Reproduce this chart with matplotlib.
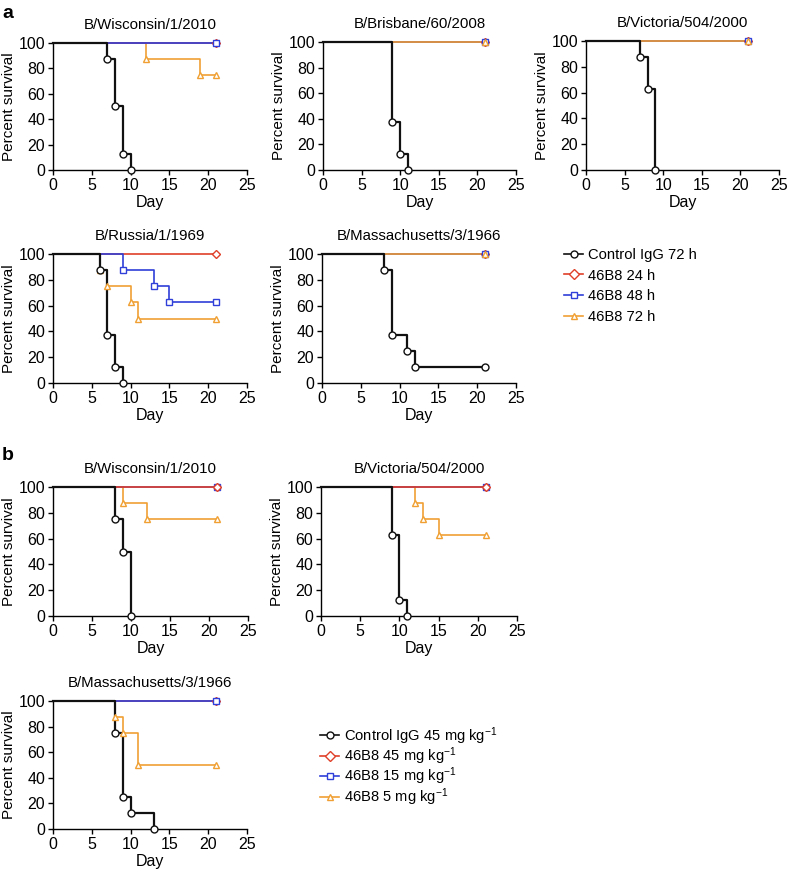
import matplotlib
matplotlib.use("Agg")
import matplotlib.pyplot as plt
from matplotlib.lines import Line2D

plt.rcParams["font.family"] = ["Liberation Sans", "DejaVu Sans"]
plt.rcParams["mathtext.fontset"] = "custom"
plt.rcParams["mathtext.rm"] = "Liberation Sans"
plt.rcParams["mathtext.it"] = "Liberation Sans:italic"
plt.rcParams["font.size"] = 10

# cores / marcadores por grupo
COLORS = {"ctrl": "#111111", "d24": "#e0402a", "d48": "#2f3fd8", "d72": "#f0a033"}
MARKERS = {"ctrl": "o", "d24": "D", "d48": "s", "d72": "^"}
DRAW_ORDER = ["d24", "d48", "d72", "ctrl"]

# ---- dados (dia do evento, % sobrevida) ----
# painel a
wis_a_ctrl = ([0, 7, 8, 9, 10], [100, 87.5, 50, 12.5, 0])
wis_a_d24 = ([0, 21], [100, 100])
wis_a_d48 = ([0, 21], [100, 100])
wis_a_d72 = ([0, 12, 19, 21], [100, 87.5, 75, 75])

bri_a_ctrl = ([0, 9, 10, 11], [100, 37.5, 12.5, 0])
bri_a_d24 = ([0, 21], [100, 100])
bri_a_d48 = ([0, 21], [100, 100])
bri_a_d72 = ([0, 21], [100, 100])

vic_a_ctrl = ([0, 7, 8, 9], [100, 87.5, 62.5, 0])
vic_a_d24 = ([0, 21], [100, 100])
vic_a_d48 = ([0, 21], [100, 100])
vic_a_d72 = ([0, 21], [100, 100])

rus_a_ctrl = ([0, 6, 7, 8, 9], [100, 87.5, 37.5, 12.5, 0])
rus_a_d24 = ([0, 21], [100, 100])
rus_a_d48 = ([0, 9, 13, 15, 21], [100, 87.5, 75, 62.5, 62.5])
rus_a_d72 = ([0, 6, 7, 10, 11, 21], [100, 87.5, 75, 62.5, 50, 50])

mas_a_ctrl = ([0, 8, 9, 11, 12, 21], [100, 87.5, 37.5, 25, 12.5, 12.5])
mas_a_d24 = ([0, 21], [100, 100])
mas_a_d48 = ([0, 21], [100, 100])
mas_a_d72 = ([0, 21], [100, 100])

# painel b
wis_b_ctrl = ([0, 8, 9, 10], [100, 75, 50, 0])
wis_b_d24 = ([0, 21], [100, 100])
wis_b_d48 = ([0, 21], [100, 100])
wis_b_d72 = ([0, 9, 12, 21], [100, 87.5, 75, 75])

vic_b_ctrl = ([0, 9, 10, 11], [100, 62.5, 12.5, 0])
vic_b_d24 = ([0, 21], [100, 100])
vic_b_d48 = ([0, 21], [100, 100])
vic_b_d72 = ([0, 12, 13, 15, 21], [100, 87.5, 75, 62.5, 62.5])

mas_b_ctrl = ([0, 8, 9, 10, 13], [100, 75, 25, 12.5, 0])
mas_b_d24 = ([0, 21], [100, 100])
mas_b_d48 = ([0, 21], [100, 100])
mas_b_d72 = ([0, 8, 9, 11, 21], [100, 87.5, 75, 50, 50])

LABELS_A = ["Control IgG 72 h", "46B8 24 h", "46B8 48 h", "46B8 72 h"]
LABELS_B = ["Control IgG 45 mg kg$^{-1}$", "46B8 45 mg kg$^{-1}$",
            "46B8 15 mg kg$^{-1}$", "46B8 5 mg kg$^{-1}$"]

# (titulo, series, posicao em px: esquerda, base, largura, altura)
PANELS = [
    ("B/Wisconsin/1/2010",
     {"ctrl": wis_a_ctrl, "d24": wis_a_d24, "d48": wis_a_d48, "d72": wis_a_d72},
     (53, 170, 194, 127), ["d72", "d24", "d48", "ctrl"]),
    ("B/Brisbane/60/2008",
     {"ctrl": bri_a_ctrl, "d24": bri_a_d24, "d48": bri_a_d48, "d72": bri_a_d72},
     (323, 170, 193, 128), None),
    ("B/Victoria/504/2000",
     {"ctrl": vic_a_ctrl, "d24": vic_a_d24, "d48": vic_a_d48, "d72": vic_a_d72},
     (586, 170, 193, 129), None),
    ("B/Russia/1/1969",
     {"ctrl": rus_a_ctrl, "d24": rus_a_d24, "d48": rus_a_d48, "d72": rus_a_d72},
     (53, 383, 194, 129), None),
    ("B/Massachusetts/3/1966",
     {"ctrl": mas_a_ctrl, "d24": mas_a_d24, "d48": mas_a_d48, "d72": mas_a_d72},
     (322, 383, 194, 129), None),
    ("B/Wisconsin/1/2010",
     {"ctrl": wis_b_ctrl, "d24": wis_b_d24, "d48": wis_b_d48, "d72": wis_b_d72},
     (53, 616, 195, 129), ["d72", "d48", "d24", "ctrl"]),
    ("B/Victoria/504/2000",
     {"ctrl": vic_b_ctrl, "d24": vic_b_d24, "d48": vic_b_d48, "d72": vic_b_d72},
     (321, 616, 196, 129), ["d72", "d48", "d24", "ctrl"]),
    ("B/Massachusetts/3/1966",
     {"ctrl": mas_b_ctrl, "d24": mas_b_d24, "d48": mas_b_d48, "d72": mas_b_d72},
     (53, 829, 194, 128), ["d24", "d72", "d48", "ctrl"]),
]

W, H = 788, 872
fig = plt.figure(figsize=(W / 100, H / 100), dpi=100)


def draw_panel(ax, title, series, order):
    for key in (order or DRAW_ORDER):
        days, surv = series[key]
        c = COLORS[key]
        lw = 1.6 if key == "ctrl" else 1.2
        ax.step(days, surv, where="post", color=c, lw=lw, clip_on=False, zorder=3)
        ax.plot(days[1:], surv[1:], ls="none", marker=MARKERS[key], ms=5 if key != "d24" else 4.5,
                mfc="white", mec=c, mew=1.0, clip_on=False, zorder=4)
    ax.set_xlim(0, 25)
    ax.set_ylim(0, 100)
    ax.set_xticks([0, 5, 10, 15, 20, 25])
    ax.set_yticks([0, 20, 40, 60, 80, 100])
    for s in ("top", "right"):
        ax.spines[s].set_visible(False)
    for s in ("left", "bottom"):
        ax.spines[s].set_linewidth(1.0)
    ax.tick_params(direction="out", length=3.5, width=1.0, labelsize=11.5, pad=2)
    ax.set_xlabel("Day", fontsize=11.5, labelpad=2)
    ax.set_ylabel("Percent survival", fontsize=11, labelpad=2)
    ax.set_title(title, fontsize=10.8, pad=10)


for title, series, (l, b, w, h), order in PANELS:
    ax = fig.add_axes([l / W, 1 - b / H, w / W, h / H])
    draw_panel(ax, title, series, order)


def legend_handles():
    return [Line2D([], [], color=COLORS[k], lw=1.2, marker=MARKERS[k], ms=5,
                   mfc="white", mec=COLORS[k]) for k in ["ctrl", "d24", "d48", "d72"]]


leg_kw = dict(frameon=False, loc="upper left", handlelength=1.3, handletextpad=0.35,
              fontsize=10.6, borderaxespad=0, borderpad=0)
fig.legend(legend_handles(), LABELS_A, bbox_to_anchor=(564 / W, 1 - 248 / H),
           labelspacing=0.45, **leg_kw)
fig.legend(legend_handles(), LABELS_B, bbox_to_anchor=(320 / W, 1 - 725 / H),
           labelspacing=-0.08, **leg_kw)

fig.text(2 / W, 1 - 13 / H, "a", fontsize=14, fontweight="bold", va="center")
fig.text(2 / W, 1 - 455 / H, "b", fontsize=14, fontweight="bold", va="center")

fig.savefig("out.png", dpi=100)
